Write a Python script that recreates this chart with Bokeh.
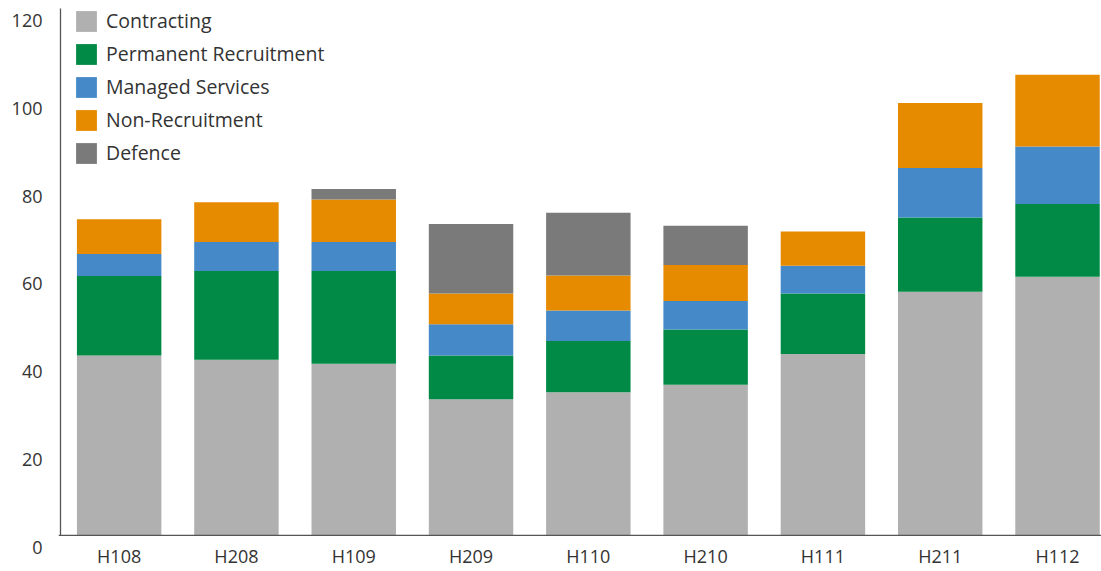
from bokeh.plotting import figure
from bokeh.models import (Range1d, FixedTicker, ColumnDataSource, Legend,
                          LegendItem, Span, CustomJSTickFormatter)
from bokeh.embed import file_html
from bokeh.resources import INLINE

# ---- data ----
periods = ["H108", "H208", "H109", "H209", "H110", "H210", "H111", "H211", "H112"]
contracting = [41.0, 40.0, 39.1, 31.0, 32.6, 34.3, 41.3, 55.5, 58.9]
permanent   = [18.1, 20.2, 21.1, 10.0, 11.7, 12.6, 13.8, 16.9, 16.6]
managed     = [5.0, 6.6, 6.6, 7.1, 6.9, 6.5, 6.3, 11.3, 13.1]
non_recruit = [7.9, 9.1, 9.7, 7.0, 8.0, 8.2, 7.8, 14.8, 16.3]
defence     = [0.0, 0.0, 2.4, 15.8, 14.3, 8.9, 0.0, 0.0, 0.0]
series_names = ["Contracting", "Permanent Recruitment", "Managed Services",
                "Non-Recruitment", "Defence"]
series_colors = ["#b0b0b0", "#008a45", "#4589c8", "#e68a00", "#7a7a7a"]
y_ticks = [0, 20, 40, 60, 80, 100, 120]

# in the reference the value labels sit ~12 px below their gridline level
LABEL_SHIFT = 2.73   # in data units
TOP_ROOM = 1.82      # headroom above 120 (data units) so the legend fits

FONT = "Open Sans"
TXT = "#333333"
AXIS = "#555555"

xs = list(range(len(periods)))
keys = ["s0", "s1", "s2", "s3", "s4"]
data = {"x": xs}
for k, vals in zip(keys, [contracting, permanent, managed, non_recruit, defence]):
    data[k] = vals
src = ColumnDataSource(data)

p = figure(width=1101, height=571, output_backend="svg", toolbar_location=None,
           x_range=Range1d(-0.517, 8.375),
           y_range=Range1d(-LABEL_SHIFT - 0.01, y_ticks[-1] + TOP_ROOM),
           min_border_left=58, min_border_right=0, min_border_top=0,
           min_border_bottom=24)
p.outline_line_color = None
p.xgrid.visible = False
p.ygrid.visible = False

renderers = p.vbar_stack(keys, x="x", width=0.72, source=src,
                         color=series_colors, line_color=None)

# axis lines (value 0 baseline and left edge from 0 to 120)
p.add_layout(Span(location=0, dimension="width", line_color=AXIS,
                  line_width=1.3))
p.segment(x0=[-0.5], y0=[0], x1=[-0.5], y1=[y_ticks[-1]],
          line_color=AXIS, line_width=1.3)

# x axis
xa = p.xaxis[0]
xa.ticker = FixedTicker(ticks=xs)
xa.major_label_overrides = {i: c for i, c in enumerate(periods)}
xa.major_tick_out = 0
xa.major_tick_in = 0
xa.minor_tick_out = 0
xa.minor_tick_in = 0
xa.major_label_standoff = -4
xa.major_label_text_font = FONT
xa.major_label_text_font_size = "18px"
xa.major_label_text_color = TXT
xa.axis_line_color = None

# y axis: labels only, shifted down like in the reference
ya = p.yaxis[0]
ya.ticker = FixedTicker(ticks=[v - LABEL_SHIFT for v in y_ticks])
ya.formatter = CustomJSTickFormatter(
    args=dict(shift=LABEL_SHIFT),
    code="return String(Math.round(tick + shift));")
ya.major_tick_out = 0
ya.major_tick_in = 0
ya.minor_tick_out = 0
ya.minor_tick_in = 0
ya.major_label_standoff = 16
ya.major_label_text_font = FONT
ya.major_label_text_font_size = "18px"
ya.major_label_text_color = TXT
ya.axis_line_color = None

legend = Legend(items=[LegendItem(label=n, renderers=[r])
                       for n, r in zip(series_names, renderers)],
                location=(15, 381), padding=0, margin=0, spacing=6,
                glyph_width=26, glyph_height=26, label_height=26,
                label_standoff=7, label_text_font=FONT,
                label_text_font_size="19.5px", label_text_color=TXT,
                background_fill_alpha=0, border_line_color=None)
p.add_layout(legend)

open("out.html", "w").write(file_html(p, INLINE))
